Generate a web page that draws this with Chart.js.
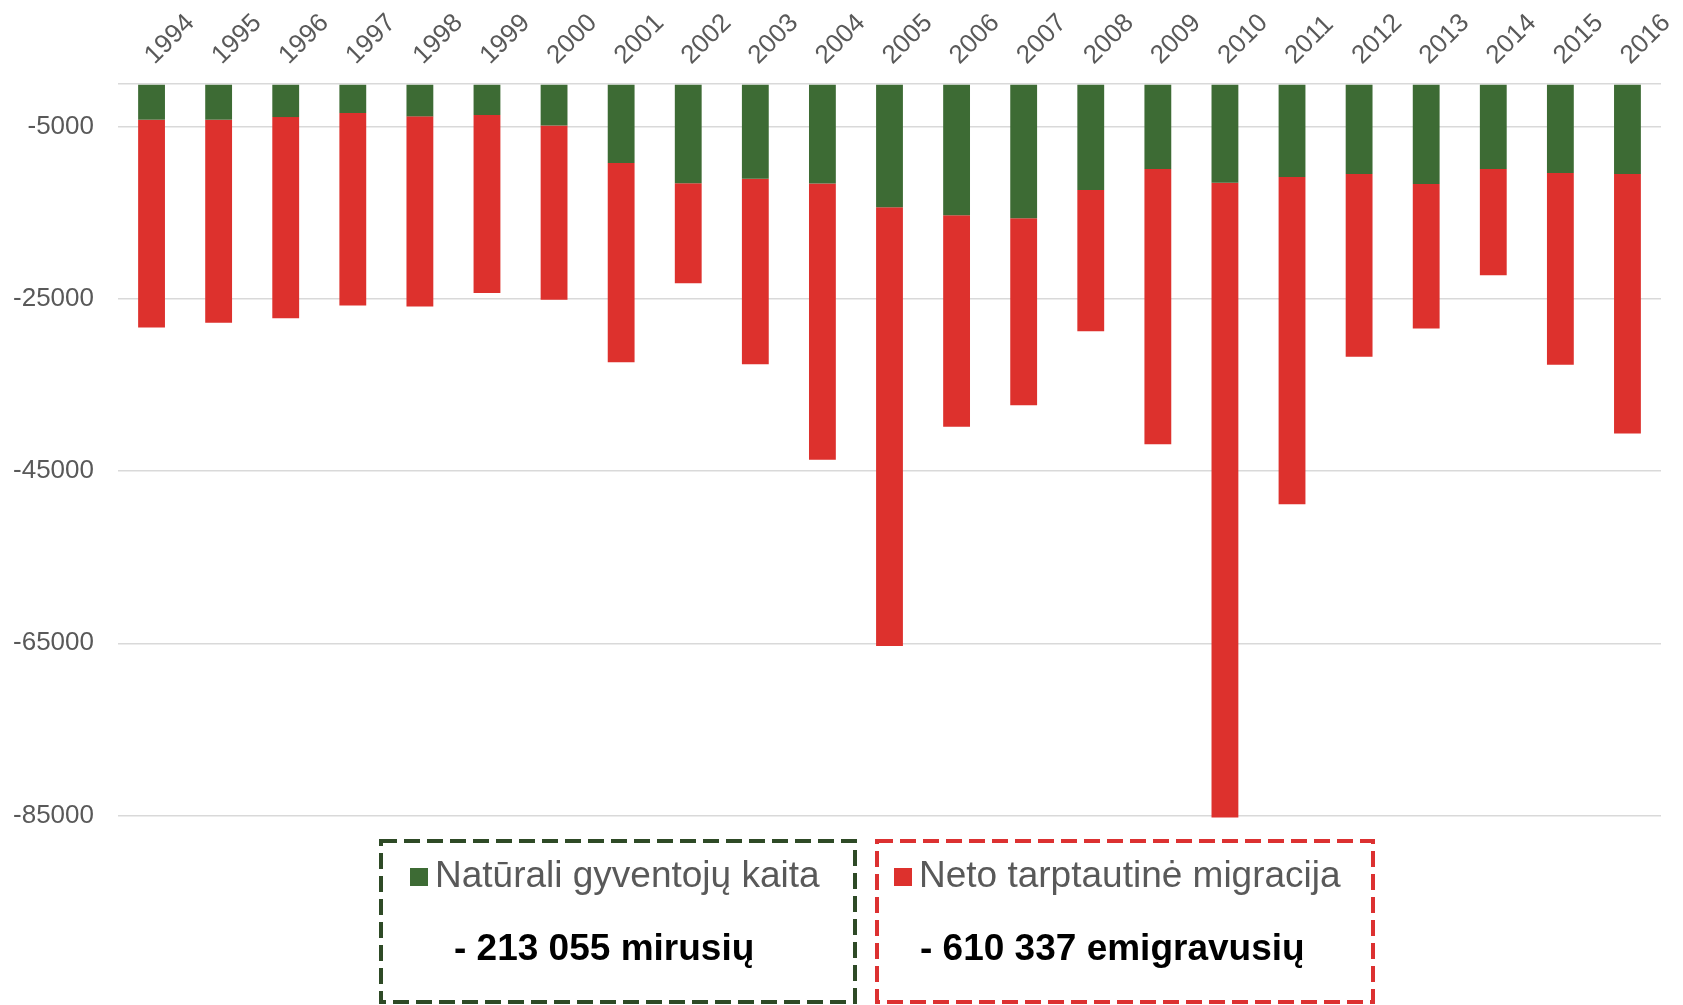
<!DOCTYPE html>
<html>
<head>
<meta charset="utf-8">
<script src="https://cdn.jsdelivr.net/npm/chart.js@4.4.1/dist/chart.umd.min.js"></script>
<style>
  body { margin: 0; background: #fff; }
  #page { position: relative; width: 1683px; height: 1005px; overflow: hidden; font-family: 'Liberation Sans', Arial, sans-serif; }
  #chart { position: absolute; left: 0; top: 0; }
  #boxes { position: absolute; left: 0; top: 0; }
  .lg { position: absolute; font-size: 37px; color: #595959; white-space: nowrap; line-height: 40px; }
  .lg i { display: inline-block; width: 18px; height: 18px; margin-right: 7px; vertical-align: 1px; }
  .tot { position: absolute; font-size: 37px; font-weight: bold; color: #000; white-space: nowrap; line-height: 40px; }
</style>
</head>
<body>
<div id="page">
  <canvas id="chart" width="1683" height="855"></canvas>
  <svg id="boxes" width="1683" height="1005">
    <rect x="381" y="841" width="474" height="161" fill="none" stroke="#2e4a26" stroke-width="4" stroke-dasharray="16 7"/>
    <rect x="877" y="841" width="496" height="161" fill="none" stroke="#dc3131" stroke-width="4" stroke-dasharray="16 7"/>
  </svg>
  <div class="lg" id="lgNat" style="left:410px; top:855px;"><i style="background:#3d6b34"></i><span></span></div>
  <div class="tot" style="left:454px; top:928px;">- 213 055 mirusių</div>
  <div class="lg" id="lgMig" style="left:894px; top:855px;"><i style="background:#dd312d"></i><span></span></div>
  <div class="tot" style="left:920px; top:928px;">- 610 337 emigravusių</div>
</div>
<script>
// Data
const years = ['1994', '1995', '1996', '1997', '1998', '1999', '2000', '2001', '2002', '2003', '2004', '2005',
    '2006', '2007', '2008', '2009', '2010', '2011', '2012', '2013', '2014', '2015', '2016'];

// Natūrali gyventojų kaita
const natural = [-4150, -4150, -3840, -3370, -3760, -3600, -4810, -9190, -11520, -11010, -11550, -14310,
    -15240, -15590, -12330, -9890, -11480, -10820, -10470, -11630, -9890, -10350, -10470];

// Neto tarptautinė migracija
const migration = [-24150, -23600, -23370, -22370, -22100, -20700, -20270, -23140, -11630, -21550, -32130, -50990,
    -24580, -21740, -16400, -31970, -73770, -38020, -21240, -16780, -12330, -22290, -30160];

const yTicks = [-85000, -65000, -45000, -25000, -5000, 0];

const seriesNames = ['Natūrali gyventojų kaita', 'Neto tarptautinė migracija'];

document.querySelector('#lgNat span').textContent = seriesNames[0];
document.querySelector('#lgMig span').textContent = seriesNames[1];

Chart.defaults.font.family = "'Liberation Sans', Arial, sans-serif";
Chart.defaults.color = '#595959';

const ctx = document.getElementById('chart').getContext('2d');
new Chart(ctx, {
    type: 'bar',
    data: {
        labels: years,
        datasets: [{
            label: seriesNames[0],
            data: natural,
            backgroundColor: '#3d6b34',
            clip: false
        }, {
            label: seriesNames[1],
            data: migration,
            backgroundColor: '#dd312d',
            clip: false
        }]
    },
    options: {
        responsive: false,
        animation: false,
        layout: {
            padding: { right: 22, bottom: 0 }
        },
        plugins: {
            legend: { display: false },
            tooltip: { enabled: false }
        },
        datasets: {
            bar: {
                categoryPercentage: 1,
                barPercentage: 0.4
            }
        },
        scales: {
            x: {
                stacked: true,
                position: 'top',
                grid: { display: false, drawTicks: false },
                border: { display: false },
                ticks: {
                    minRotation: 45,
                    maxRotation: 45,
                    padding: 13,
                    labelOffset: 20,
                    font: { size: 26 },
                    color: '#595959'
                },
                afterFit: s => { s.height = 84; }
            },
            y: {
                stacked: true,
                min: -85000,
                max: 0,
                afterBuildTicks: s => {
                    s.ticks = yTicks.map(v => ({ value: v }));
                },
                grid: {
                    color: '#d9d9d9',
                    lineWidth: 1.5,
                    drawTicks: false
                },
                border: { display: false },
                ticks: {
                    padding: 24,
                    font: { size: 26 },
                    color: '#595959',
                    callback: v => (v === 0 ? '' : String(v))
                },
                afterFit: s => { s.width = 118; }
            }
        }
    }
});
</script>
</body>
</html>
